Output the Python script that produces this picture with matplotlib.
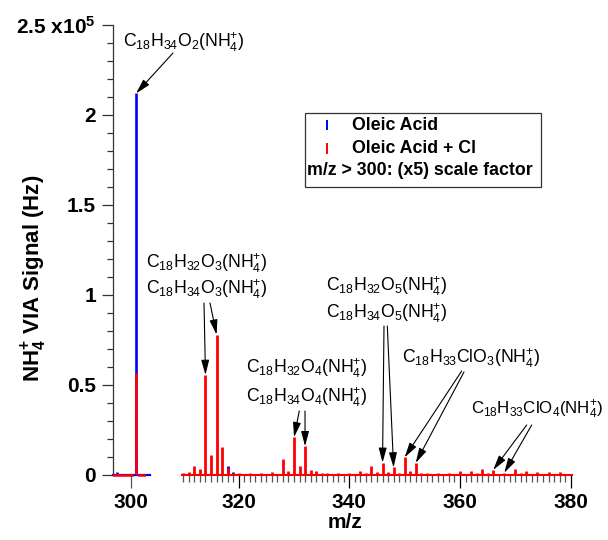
import numpy as np
import matplotlib
matplotlib.use("Agg")
import matplotlib.pyplot as plt
from matplotlib.patches import Rectangle
from matplotlib.lines import Line2D

plt.rcParams['font.family'] = ['Liberation Sans', 'DejaVu Sans']
plt.rcParams['mathtext.fontset'] = 'custom'
plt.rcParams['mathtext.rm'] = 'Liberation Sans'
plt.rcParams['mathtext.it'] = 'Liberation Sans:italic'
plt.rcParams['mathtext.bf'] = 'Liberation Sans:bold'

# ---------------- data ----------------
SCALE = 5  # m/z > 300 scale factor
# left panel (unscaled), m/z and signal (Hz)
left_mz = [297.6, 301.0]
left_blue = [1500, 212000]
left_red = [500, 56500]
# faint shoulders of the blue 301 peak
shoulder_mz = [300.75, 301.25]
shoulder_blue = [35000, 11000]

# right panel: raw signal (Hz), displayed x5
right_mz = list(range(310, 381))
right_red_raw = [200, 300, 1000, 660, 11120, 2260, 15600, 3140, 800, 200,
                 200, 160, 200, 160, 200, 160, 340, 160, 1780, 400,
                 4200, 1000, 3200, 600, 500, 200, 200, 160, 200, 160,
                 200, 160, 400, 200, 1000, 300, 1360, 300, 840, 200,
                 1960, 400, 1340, 240, 240, 160, 200, 160, 240, 160,
                 440, 160, 440, 200, 620, 200, 560, 160, 240, 160,
                 640, 200, 440, 160, 300, 160, 280, 160, 340, 160, 160]
right_blue_raw = [100] * len(right_mz)
right_blue_raw[8] = 1000   # m/z 318
right_blue_raw[9] = 300    # m/z 319

labels = [r"C$_{18}$H$_{34}$O$_{2}$(NH$_{4}^{+}$)",
          r"C$_{18}$H$_{32}$O$_{3}$(NH$_{4}^{+}$)",
          r"C$_{18}$H$_{34}$O$_{3}$(NH$_{4}^{+}$)",
          r"C$_{18}$H$_{32}$O$_{4}$(NH$_{4}^{+}$)",
          r"C$_{18}$H$_{34}$O$_{4}$(NH$_{4}^{+}$)",
          r"C$_{18}$H$_{32}$O$_{5}$(NH$_{4}^{+}$)",
          r"C$_{18}$H$_{34}$O$_{5}$(NH$_{4}^{+}$)",
          r"C$_{18}$H$_{33}$ClO$_{3}$(NH$_{4}^{+}$)",
          r"C$_{18}$H$_{33}$ClO$_{4}$(NH$_{4}^{+}$)"]
arrow_targets = [314, 316, 330, 332, 346, 348, 350, 352, 366, 368]

W, H = 608, 540
def fx(px): return px / W
def fy(py): return 1 - py / H

fig = plt.figure(figsize=(W / 100, H / 100), dpi=100)
ax_l = fig.add_axes([fx(112.7), fy(475), (150 - 112.7) / W, 450 / H])
ax_r = fig.add_axes([fx(181.7), fy(475), (572.3 - 181.7) / W, 450 / H])

RED = '#ff0000'
BLUE = '#0000ff'
TICK_FS = 15

# left panel
ax_l.plot([296.85, 303.45], [0, 0], color=BLUE, lw=1.6, clip_on=False, zorder=2)
ax_l.vlines(shoulder_mz, 0, shoulder_blue, color='#9999ff', lw=0.8, zorder=2)
ax_l.vlines(left_mz, 0, left_blue, color=BLUE, lw=1.9, zorder=3)
ax_l.plot([296.95, 300.3], [0, 0], color=RED, lw=1.8, clip_on=False, zorder=4)
ax_l.plot([301.6, 302.4], [0, 0], color=RED, lw=1.8, clip_on=False, zorder=4)
ax_l.vlines(left_mz, 0, left_red, color=RED, lw=1.9, zorder=4)

# right panel
rmz = np.array(right_mz)
rred = np.array(right_red_raw) * SCALE
rblue = np.array(right_blue_raw) * SCALE
ax_r.plot([rmz.min() - 0.2, rmz.max() + 0.2], [0, 0], color=RED, lw=1.5,
          clip_on=False, zorder=4)
ax_r.vlines(rmz, 0, rblue, color=BLUE, lw=2.0, zorder=3)
ax_r.vlines(rmz, 0, rred, color=RED, lw=2.0, zorder=4)

for ax in (ax_l, ax_r):
    ax.set_ylim(0, 2.5e5)
    for s in ('top', 'right', 'bottom'):
        ax.spines[s].set_visible(False)
    ax.patch.set_visible(False)
    ax.tick_params(axis='x', which='major', direction='out', length=9,
                   width=0.9, color='#555555', pad=4)
    ax.tick_params(axis='x', which='minor', direction='out', length=5,
                   width=0.9, color='#555555')

ax_l.set_xlim(296.8, 303.5)
ax_r.set_xlim(309.7, 380.3)

ax_l.set_xticks([300])
ax_l.set_xticklabels(['300'], fontweight='bold', fontsize=TICK_FS)
ax_r.set_xticks([320, 340, 360, 380])
ax_r.set_xticklabels(['320', '340', '360', '380'], fontweight='bold', fontsize=TICK_FS)
ax_r.set_xticks(np.arange(310, 381, 1), minor=True)
ax_r.tick_params(axis='x', which='major', color='black')

ax_r.spines['left'].set_visible(False)
ax_r.set_yticks([])

ax_l.spines['left'].set_linewidth(0.9)
ax_l.spines['left'].set_color('#333333')
ax_l.set_yticks(np.arange(0, 2.51e5, 0.5e5))
ax_l.set_yticklabels(['0', '0.5', '1', '1.5', '2', r'2.5 x10$^{\mathbf{5}}$'],
                     fontweight='bold', fontsize=TICK_FS)
ax_l.set_yticks(np.arange(0, 2.51e5, 0.1e5), minor=True)
ax_l.tick_params(axis='y', which='major', direction='out', length=8, width=0.9,
                 pad=4, color='#333333')
ax_l.tick_params(axis='y', which='minor', direction='out', length=4, width=0.9,
                 color='#333333')

# axis labels
fig.text(fx(34), fy(278), r"NH$_{\mathbf{4}}^{\mathbf{+}}$ VIA Signal (Hz)",
         rotation=90, ha='center', va='center', fontsize=16, fontweight='bold')
fig.text(fx(345), fy(522), "m/z", ha='center', va='center', fontsize=15,
         fontweight='bold')

# annotation texts
ANN_FS = 12.7
text_pos = [(123, 42), (145.7, 263), (145.7, 289), (245.7, 368), (245.7, 397),
            (326, 286), (326, 313), (401.7, 358), (471, 410)]
text_fs = [ANN_FS] * 8 + [12.2]
for lab, (px, py), fs in zip(labels, text_pos, text_fs):
    fig.text(fx(px), fy(py), lab, ha='left', va='center', fontsize=fs)

aprops = dict(arrowstyle='-|>,head_length=0.45,head_width=0.12', color='black',
              lw=0.8, shrinkA=0, shrinkB=0, mutation_scale=20)
# main peak arrow
ax_l.annotate('', xy=(left_mz[1], left_blue[1]), xycoords='data',
              xytext=(fx(173), fy(53)), textcoords='figure fraction',
              arrowprops=aprops)
tails = [(204, 303), (210, 303), (299.3, 411), (305, 411), (384, 326),
         (387.3, 326), (461.7, 371), (464, 372), (526.7, 425), (531.7, 425)]
for m, (px, py) in zip(arrow_targets, tails):
    idx = right_mz.index(m)
    ax_r.annotate('', xy=(m, rred[idx]), xycoords='data',
                  xytext=(fx(px), fy(py)), textcoords='figure fraction',
                  arrowprops=aprops)

# legend box
fig.add_artist(Rectangle((fx(305), fy(187)), (541 - 305) / W, (187 - 113) / H,
                         transform=fig.transFigure, fill=False, lw=0.9,
                         edgecolor='#333333'))
fig.add_artist(Line2D([fx(326.7)] * 2, [fy(129), fy(121)], color=BLUE, lw=1.4,
                      transform=fig.transFigure))
fig.add_artist(Line2D([fx(326.7)] * 2, [fy(152.5), fy(144)], color=RED, lw=1.4,
                      transform=fig.transFigure))
LEG_FS = 12.8
fig.text(fx(351.7), fy(125), "Oleic Acid", ha='left', va='center', fontsize=LEG_FS,
         fontweight='bold')
fig.text(fx(351.7), fy(148.3), "Oleic Acid + Cl", ha='left', va='center',
         fontsize=LEG_FS, fontweight='bold')
fig.text(fx(306.7), fy(170.7), "m/z > 300: (x5) scale factor", ha='left',
         va='center', fontsize=LEG_FS, fontweight='bold')

fig.savefig("out.png", dpi=100)
